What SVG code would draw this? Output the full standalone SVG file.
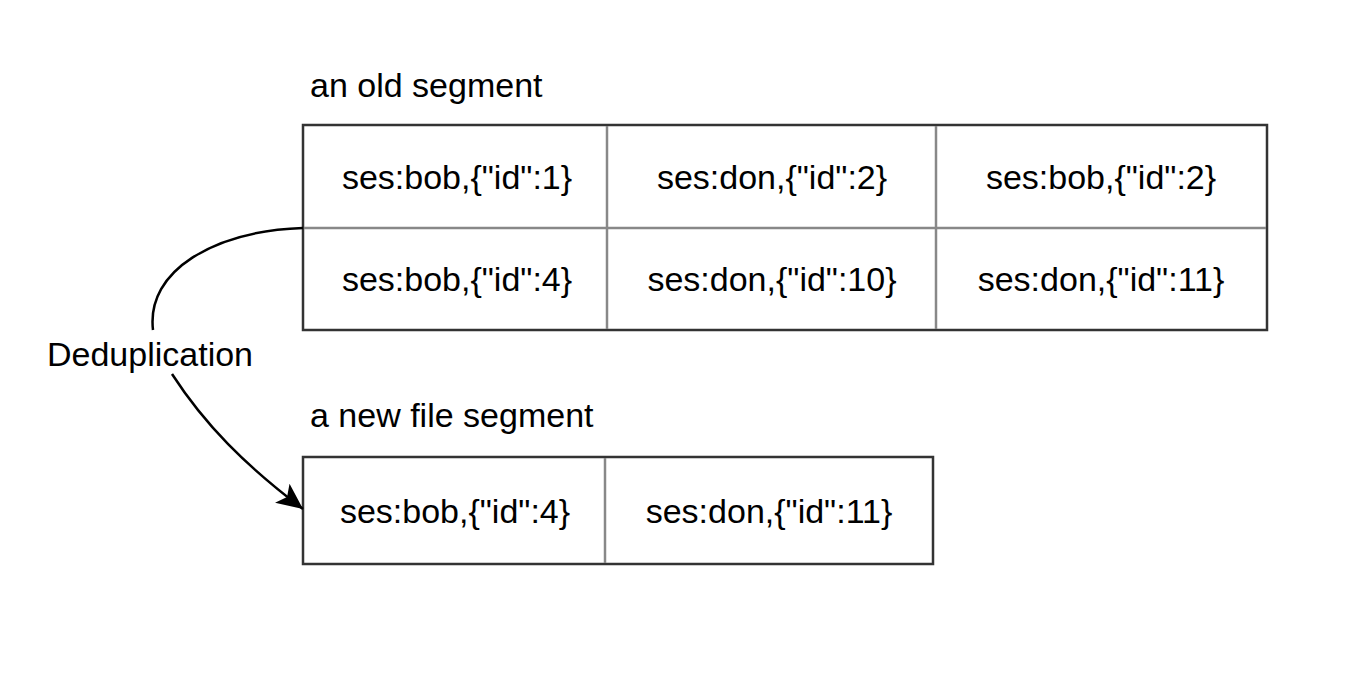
<svg xmlns="http://www.w3.org/2000/svg" width="1358" height="692" viewBox="0 0 1358 692">
<style>
.t{font-family:"Liberation Sans",Arial,Helvetica,sans-serif;font-size:34px;fill:#000}
.c{text-anchor:middle}
.outer{fill:#fff;stroke:#333;stroke-width:2.5}
.div{stroke:#888;stroke-width:2.5;fill:none}
.edge{fill:none;stroke:#000;stroke-width:2.5}
</style>
<defs>
<marker id="arr" markerUnits="userSpaceOnUse" markerWidth="30" markerHeight="26" viewBox="0 0 30 26" refX="26" refY="12" orient="auto">
<path d="M0,0 L26,12 L0,24 L6,12 Z" fill="#000"/>
</marker>
</defs>
<rect width="1358" height="692" fill="#fff"/>
<g id="label-old"><text class="t" x="310" y="97">an old segment</text></g>
<g id="old-segment">
<rect class="outer" x="303" y="125" width="964" height="205"/>
<line class="div" x1="304" y1="228" x2="1266" y2="228"/>
<line class="div" x1="607" y1="126" x2="607" y2="329"/>
<line class="div" x1="936" y1="126" x2="936" y2="329"/>
<text class="t c" x="457" y="189">ses:bob,{"id":1}</text>
<text class="t c" x="772" y="189">ses:don,{"id":2}</text>
<text class="t c" x="1101" y="189">ses:bob,{"id":2}</text>
<text class="t c" x="457" y="291">ses:bob,{"id":4}</text>
<text class="t c" x="772" y="291">ses:don,{"id":10}</text>
<text class="t c" x="1101" y="291">ses:don,{"id":11}</text>
</g>
<g id="label-new"><text class="t" x="310" y="427">a new file segment</text></g>
<g id="new-segment">
<rect class="outer" x="303" y="457" width="630" height="107"/>
<line class="div" x1="605" y1="458" x2="605" y2="563"/>
<text class="t c" x="455" y="523">ses:bob,{"id":4}</text>
<text class="t c" x="769" y="523">ses:don,{"id":11}</text>
</g>
<g id="connectors">
<path class="edge" d="M303,228 C215,231 146,270 153,330"/>
<path class="edge" d="M172,374 C205,425 245,465 303,509" marker-end="url(#arr)"/>
<text class="t c" x="150" y="366">Deduplication</text>
</g>
</svg>
